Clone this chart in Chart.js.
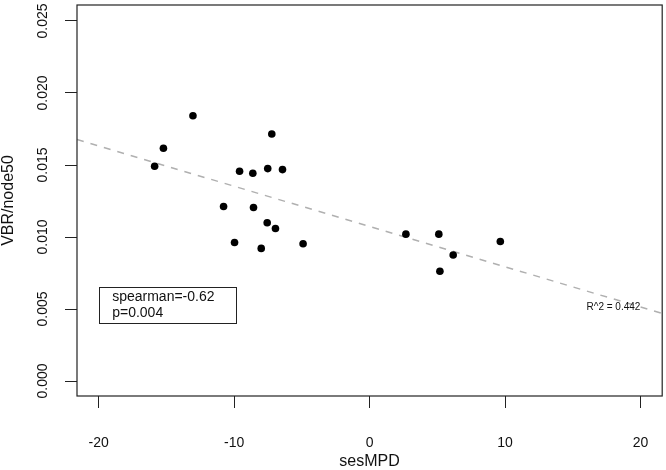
<!DOCTYPE html>
<html>
<head>
<meta charset="utf-8">
<script src="https://cdn.jsdelivr.net/npm/chart.js@4"></script>
<style>
html,body{margin:0;padding:0;background:#fff;}
#wrap{width:666px;height:470px;position:relative;}
</style>
</head>
<body>
<div id="wrap"><canvas id="c"></canvas></div>
<script>
// ---- data ----
const sesMPD = [-13.04,-7.22,-15.22,-15.87,-9.60,-8.62,-7.52,-6.43,-10.78,-8.57,-7.56,-6.95,-9.97,-8.00,-4.91,2.68,5.11,9.65,6.17,5.19];
const vbrNode50 = [0.01842,0.01715,0.01616,0.01491,0.01457,0.01443,0.01475,0.01468,0.01212,0.01205,0.01099,0.01059,0.00962,0.00921,0.00953,0.01020,0.01020,0.00969,0.00875,0.00762];
const fitX = [-21.6, 21.6];
const fitY = [0.01677, 0.00469];
const xTicks = [-20,-10,0,10,20];
const yTicks = [0.000,0.005,0.010,0.015,0.020,0.025];
const yTickLabels = ["0.000","0.005","0.010","0.015","0.020","0.025"];
const legendLines = ["spearman=-0.62","p=0.004"];
const legendAnchor = [-20, 0.00654];
const r2Text = "R^2 = 0.442";
const r2Pos = [18, 0.0051];

const FONT = "'Liberation Sans', Arial, Helvetica, sans-serif";
const INK = '#111';

const points = sesMPD.map((x,i)=>({x:x, y:vbrNode50[i]}));
const fitLine = fitX.map((x,i)=>({x:x, y:fitY[i]}));

const rPlot = {
  id:'rplot',
  afterDraw(chart){
    const ctx = chart.ctx, a = chart.chartArea;
    const xs = chart.scales.x, ys = chart.scales.y;
    ctx.save();
    // box
    ctx.strokeStyle = '#222'; ctx.lineWidth = 1.2;
    ctx.strokeRect(a.left, a.top, a.right - a.left, a.bottom - a.top);
    // y tick labels (rotated)
    ctx.fillStyle = INK;
    ctx.font = '14px ' + FONT;
    ctx.textAlign = 'center'; ctx.textBaseline = 'middle';
    yTicks.forEach((v,i)=>{
      const py = ys.getPixelForValue(v);
      ctx.save();
      ctx.translate(43, py);
      ctx.rotate(-Math.PI/2);
      ctx.fillText(yTickLabels[i], 0, 0);
      ctx.restore();
    });
    // legend box
    const bx = xs.getPixelForValue(legendAnchor[0]);
    const by = ys.getPixelForValue(legendAnchor[1]);
    ctx.strokeStyle = '#222'; ctx.lineWidth = 1;
    ctx.strokeRect(Math.round(bx)+0.5, Math.round(by)+0.5, 137, 36);
    ctx.textAlign = 'left'; ctx.textBaseline = 'middle';
    ctx.font = '14px ' + FONT;
    ctx.fillText(legendLines[0], bx + 13.5, by + 10);
    ctx.fillText(legendLines[1], bx + 13.5, by + 26);
    // R^2 text
    ctx.font = '10px ' + FONT;
    ctx.textAlign = 'center';
    ctx.fillText(r2Text, xs.getPixelForValue(r2Pos[0]), ys.getPixelForValue(r2Pos[1]));
    ctx.restore();
  }
};

new Chart(document.getElementById('c'), {
  type:'scatter',
  data:{
    datasets:[
      {
        type:'line',
        data: fitLine,
        borderColor:'#b0b0b0',
        borderWidth:1.5,
        borderDash:[7,7],
        pointRadius:0,
        fill:false,
        order:2
      },
      {
        data: points,
        pointRadius:3.8,
        pointHoverRadius:3.8,
        pointBackgroundColor:'#000',
        pointBorderWidth:0,
        borderWidth:0,
        order:1
      }
    ]
  },
  options:{
    responsive:true,
    maintainAspectRatio:false,
    animation:false,
    events:[],
    layout:{padding:{left:0,right:2,top:5,bottom:0}},
    plugins:{legend:{display:false}, tooltip:{enabled:false}},
    scales:{
      x:{
        type:'linear',
        min:-21.6, max:21.6,
        afterBuildTicks(s){ s.ticks = xTicks.map(v=>({value:v})); },
        afterFit(s){ s.height = 74; s.paddingLeft = 0; s.paddingRight = 0; },
        grid:{display:true, drawOnChartArea:false, drawTicks:true, tickLength:12, color:'#222', lineWidth:1},
        border:{display:false},
        ticks:{color:INK, font:{family:FONT, size:14, lineHeight:1.2}, padding:27, maxRotation:0,
               callback:(v)=>String(v)},
        title:{display:true, text:'sesMPD', color:INK, font:{family:FONT, size:16, lineHeight:1}, padding:{top:0,bottom:0}}
      },
      y:{
        type:'linear',
        min:-0.00104, max:0.02611,
        afterBuildTicks(s){ s.ticks = yTicks.map(v=>({value:v})); },
        afterFit(s){ s.width = 77; s.paddingTop = 0; s.paddingBottom = 0; },
        grid:{display:true, drawOnChartArea:false, drawTicks:true, tickLength:12, color:'#222', lineWidth:1},
        border:{display:false},
        ticks:{display:false},
        title:{display:true, text:'VBR/node50', color:INK, font:{family:FONT, size:16, lineHeight:1}, padding:{top:1,bottom:0}}
      }
    }
  },
  plugins:[rPlot]
});
</script>
</body>
</html>
